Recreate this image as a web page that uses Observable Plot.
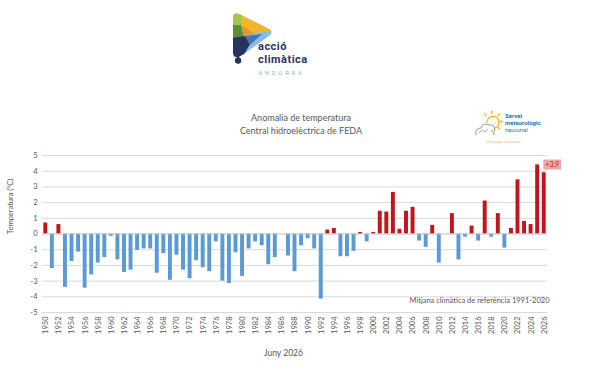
<!DOCTYPE html>
<html>
<head>
<meta charset="utf-8">
<script src="https://cdn.jsdelivr.net/npm/d3@7"></script>
<script src="https://cdn.jsdelivr.net/npm/@observablehq/plot@0.6"></script>
<style>
  body { margin: 0; background: #fff; width: 600px; height: 387px; position: relative; overflow: hidden; font-family: Lato, "Open Sans", sans-serif; }
  .abs { position: absolute; }
  #chart { position: absolute; left: 0; top: 140px; }
  .title { position: absolute; left: 0; width: 602px; text-align: center; color: #595959; font-size: 9px; line-height: 13px; }
  #month { position: absolute; left: 264px; top: 348px; font-size: 8.5px; color: #595959; }
</style>
</head>
<body>

<!-- Acció Climàtica Andorra brand mark -->
<svg class="abs" style="left:228px; top:10px" width="90" height="70" viewBox="0 0 90 70">
  <defs>
    <clipPath id="tri">
      <path d="M5,8 Q5,2 11,4 L41,19 Q46,22 41,26 L16,44 Q5,51 5,42 Z"/>
    </clipPath>
  </defs>
  <g clip-path="url(#tri)">
    <rect x="0" y="0" width="50" height="55" fill="#86bde6"/>
    <polygon points="5,0 48,21 25,23 13,15" fill="#f3b62a"/>
    <polygon points="5,0 14,5 13,16 5,17" fill="#a6c74c"/>
    <polygon points="5,15 13,15 16,27 5,29" fill="#5d8d3b"/>
    <polygon points="13,15 26,23 16,27" fill="#e79a2c"/>
    <polygon points="5,28 17,26 22,34 14,48 5,48" fill="#27335d"/>
    <polygon points="17,26 34,24 22,35" fill="#4c72b3"/>
  </g>
  <rect x="9" y="42" width="2.2" height="6" fill="#27335d"/>
  <circle cx="10.1" cy="50.5" r="3.2" fill="#27335d"/>
  <text x="30" y="40" font-family="Roboto, sans-serif" font-weight="700" font-size="11" letter-spacing="0.5" fill="#2b3560">acció</text>
  <text x="30" y="53.3" font-family="Roboto, sans-serif" font-weight="700" font-size="11" letter-spacing="0.5" fill="#2b3560">climàtica</text>
  <text x="30.5" y="64.5" font-family="Roboto, sans-serif" font-size="5.5" letter-spacing="3" fill="#8aaedb">ANDORRA</text>
</svg>

<div class="title" style="top:111px">Anomalia de temperatura</div>
<div class="title" style="top:124px">Central hidroelèctrica de FEDA</div>

<!-- Servei meteorològic nacional mark -->
<svg class="abs" style="left:474px; top:109px" width="90" height="40" viewBox="0 0 90 40">
  <g stroke="#f3b21b" stroke-width="1.3" stroke-linecap="round" fill="none">
    <path d="M13,13 A6,6 0 1 1 21,19"/>
    <line x1="18" y1="2" x2="18" y2="4.5"/>
    <line x1="25.5" y1="5" x2="24" y2="6.8"/>
    <line x1="28.5" y1="12.5" x2="26" y2="12.5"/>
    <line x1="25.5" y1="20" x2="24" y2="18.3"/>
    <line x1="10.5" y1="5" x2="12" y2="6.8"/>
    <line x1="18" y1="23" x2="18" y2="21"/>
  </g>
  <path d="M2,26 Q1,19 7,19 Q9,13 15,16 Q20,15 21,21 Q19,23 20,26" fill="none" stroke="#8c8c8c" stroke-width="0.9"/>
  <path d="M5,24 L8,21 L11,23 L14,20" fill="none" stroke="#8c8c8c" stroke-width="0.7"/>
  <text x="31" y="9" font-family="Roboto, sans-serif" font-weight="700" font-size="6" fill="#1e74b9">Servei</text>
  <text x="31" y="16" font-family="Roboto, sans-serif" font-weight="700" font-size="6" fill="#1e74b9">meteorològic</text>
  <text x="31" y="23" font-family="Roboto, sans-serif" font-size="6" fill="#1e74b9">nacional</text>
  <text x="13" y="34" font-family="Roboto, sans-serif" font-size="4" fill="#efc35a">Principat d'Andorra</text>
</svg>

<div id="chart"></div>
<div id="month">Juny 2026</div>

<script>
// Yearly temperature anomaly (ºC) against the 1991-2020 reference mean
const years = [
  1950, 1951, 1952, 1953, 1954, 1955, 1956, 1957, 1958, 1959,
  1960, 1961, 1962, 1963, 1964, 1965, 1966, 1967, 1968, 1969,
  1970, 1971, 1972, 1973, 1974, 1975, 1976, 1977, 1978, 1979,
  1980, 1981, 1982, 1983, 1984, 1985, 1986, 1987, 1988, 1989,
  1990, 1991, 1992, 1993, 1994, 1995, 1996, 1997, 1998, 1999,
  2000, 2001, 2002, 2003, 2004, 2005, 2006, 2007, 2008, 2009,
  2010, 2011, 2012, 2013, 2014, 2015, 2016, 2017, 2018, 2019,
  2020, 2021, 2022, 2023, 2024, 2025, 2026
];

const anomalies = [
   0.70, -2.20,  0.60, -3.40, -1.75, -1.15, -3.45, -2.60, -1.85, -1.50,
  -0.15, -1.65, -2.45, -2.30, -1.05, -0.95, -0.95, -2.50, -1.25, -2.95,
  -1.35, -2.30, -2.85, -1.70, -2.15, -2.40, -0.50, -3.00, -3.15, -1.20,
  -2.70, -0.95, -0.50, -0.75, -1.95, -1.50,  0.00, -1.40, -2.40, -0.75,
  -0.30, -0.95, -4.15,  0.25,  0.35, -1.45, -1.45, -1.10,  0.10, -0.50,
   0.10,  1.45,  1.40,  2.65,  0.30,  1.45,  1.70, -0.45, -0.85,  0.55,
  -1.85,  0.00,  1.30, -1.65, -0.20,  0.50, -0.45,  2.10, -0.20,  1.30,
  -0.90,  0.35,  3.45,  0.80,  0.60,  4.40,  3.90
];

const tickYears = years.filter((y, i) => i % 2 === 0);
const gridValues = [-5, -4, -3, -2, -1, 0, 1, 2, 3, 4, 5];

const warm = "#c0151d";
const cold = "#5b9bd5";

const rows = years.map((year, i) => ({year, value: anomalies[i]}));
const latest = rows[rows.length - 1];
const formatAnomaly = v => (v > 0 ? "+" : "") + v.toFixed(1).replace(".", ",");

const chart = Plot.plot({
  width: 600,
  height: 210,
  marginTop: 15,
  marginBottom: 38,
  marginLeft: 42,
  marginRight: 53,
  style: {fontFamily: "Lato, 'Open Sans', sans-serif", fontSize: "7.5px", color: "#595959", background: "transparent"},
  x: {type: "band", domain: years, paddingInner: 0.4, paddingOuter: 0.2, round: false},
  y: {domain: [-5, 5]},
  color: {type: "identity"},
  marks: [
    Plot.ruleY(gridValues.filter(v => v !== 0), {stroke: "#d9d9d9", strokeWidth: 1}),
    Plot.barY(rows, {x: "year", y: "value", fill: d => d.value >= 0 ? warm : cold}),
    Plot.ruleY([0], {stroke: "#bfbfbf", strokeWidth: 1}),
    Plot.axisY({ticks: gridValues, tickSize: 0, tickPadding: 5, label: null, tickFormat: d => String(d), fill: "#595959"}),
    Plot.axisX({ticks: tickYears, tickSize: 0, tickPadding: 4, tickRotate: -90, label: null, tickFormat: d => String(d), fill: "#595959"}),
    Plot.text([latest], {x: "year", y: "value", text: d => formatAnomaly(d.value), dx: 8, dy: -8, fill: "#b52a2a", fontSize: 7}),
    Plot.text(["Temperatura (ºC)"], {frameAnchor: "left", rotate: -90, dx: -32, fontSize: 7.5, fill: "#595959"}),
    Plot.text(["Mitjana climàtica de referència 1991-2020"], {frameAnchor: "bottom-right", textAnchor: "end", dx: 2, dy: -10, fontSize: 7.5, fill: "#595959"})
  ]
});

document.getElementById("chart").append(chart);

// Shaded badge behind the latest-year value label
const label = formatAnomaly(latest.value);
for (const t of chart.querySelectorAll("text")) {
  if (t.textContent === label) {
    const b = t.getBBox();
    const rect = document.createElementNS("http://www.w3.org/2000/svg", "rect");
    rect.setAttribute("x", b.x - 2);
    rect.setAttribute("y", b.y - 0.5);
    rect.setAttribute("width", b.width + 4);
    rect.setAttribute("height", b.height + 1);
    rect.setAttribute("fill", "#eea7a7");
    const tr = t.getAttribute("transform");
    if (tr) rect.setAttribute("transform", tr);
    t.parentNode.insertBefore(rect, t);
  }
}
</script>
</body>
</html>
